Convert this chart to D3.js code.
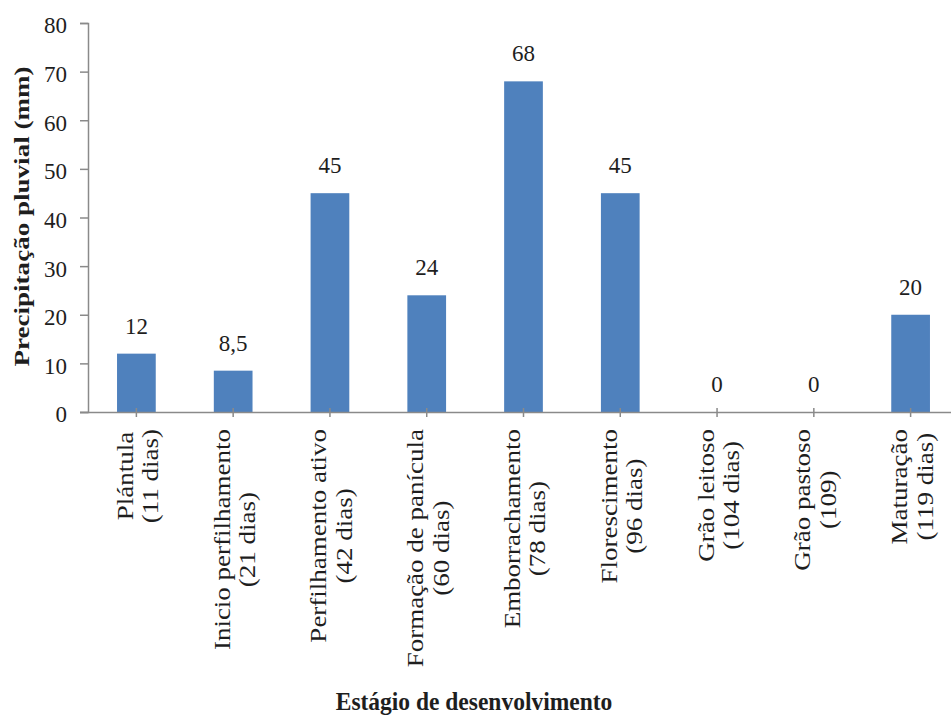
<!DOCTYPE html>
<html>
<head>
<meta charset="utf-8">
<script src="https://cdn.jsdelivr.net/npm/d3@7"></script>
<style>
  html, body { margin: 0; padding: 0; background: #fff; }
  svg { display: block; }
</style>
</head>
<body>
<svg id="chart" width="951" height="716"></svg>
<script>
// Rainfall per rice development stage
const stages = ["Plántula", "Inicio perfilhamento", "Perfilhamento ativo", "Formação de panícula",
                "Emborrachamento", "Florescimento", "Grão leitoso", "Grão pastoso", "Maturação"];
const stageDays = ["(11 dias)", "(21 dias)", "(42 dias)", "(60 dias)", "(78 dias)",
                   "(96 dias)", "(104 dias)", "(109)", "(119 dias)"];
const rainfall = [12, 8.5, 45, 24, 68, 45, 0, 0, 20];
const valueLabels = ["12", "8,5", "45", "24", "68", "45", "0", "0", "20"];
const yTicks = [0, 10, 20, 30, 40, 50, 60, 70, 80];

const serif = "'Liberation Serif', 'Times New Roman', serif";
const textColor = "#1e1e1e";

const svg = d3.select("#chart");
const plotLeft = 88, plotRight = 959, plotTop = 23, plotBottom = 412;
const axisColor = "#8a8a8a";

const x = d3.scaleBand().domain(stages).range([plotLeft, plotRight]).paddingInner(0.6).paddingOuter(0.3);
const y = d3.scaleLinear().domain([0, 80]).range([plotBottom, plotTop]);

// Bars
svg.append("g").selectAll("rect")
  .data(rainfall)
  .join("rect")
  .attr("x", (d, i) => x(stages[i]))
  .attr("y", d => y(d))
  .attr("width", x.bandwidth())
  .attr("height", d => y(0) - y(d))
  .attr("fill", "#4f81bd");

// Value labels above bars
svg.append("g").selectAll("text")
  .data(rainfall)
  .join("text")
  .attr("x", (d, i) => x(stages[i]) + x.bandwidth() / 2)
  .attr("y", d => y(d) - 20)
  .attr("text-anchor", "middle")
  .style("font-family", serif)
  .style("font-size", "23px")
  .style("fill", textColor)
  .text((d, i) => valueLabels[i]);

// Y axis
const yAxis = svg.append("g")
  .attr("transform", `translate(${plotLeft},0)`)
  .call(d3.axisLeft(y).tickValues(yTicks).tickSize(8).tickPadding(13));
yAxis.select(".domain").attr("stroke", axisColor).attr("stroke-width", 1.5);
yAxis.selectAll(".tick line").attr("stroke", axisColor).attr("stroke-width", 1.5);
yAxis.selectAll(".tick text")
  .attr("dy", "0.43em")
  .style("font-size", "23px")
  .style("font-family", serif)
  .style("fill", textColor);

// X axis
const xAxis = svg.append("g")
  .attr("transform", `translate(0,${plotBottom})`)
  .call(d3.axisBottom(x).tickSize(5).tickFormat(""));
xAxis.select(".domain").attr("stroke", axisColor).attr("stroke-width", 1.5)
  .attr("d", `M${plotLeft - 8},0.5H951`);
xAxis.selectAll(".tick line").attr("stroke", axisColor).attr("stroke-width", 1.5).attr("y1", -4);

// Two-line rotated category labels, each centred on its longest line
const labelTop = 429;
stages.forEach((s, i) => {
  const cx = x(s) + x.bandwidth() / 2;
  const g = svg.append("g")
    .attr("transform", `translate(${cx},${labelTop}) rotate(-90) scale(1.2,1)`);
  const t = g.append("text")
    .attr("text-anchor", "middle")
    .style("font-family", serif)
    .style("font-size", "22.5px")
    .style("fill", textColor);
  const l1 = t.append("tspan").attr("y", -3.5).text(s);
  const l2 = t.append("tspan").attr("y", 22).text(stageDays[i]);
  const w = Math.max(l1.node().getComputedTextLength(), l2.node().getComputedTextLength());
  l1.attr("x", -w / 2);
  l2.attr("x", -w / 2);
});

// Axis titles
svg.append("text")
  .attr("transform", `translate(29,${(plotTop + plotBottom) / 2 - 1}) rotate(-90) scale(1.23,1)`)
  .attr("text-anchor", "middle")
  .style("font-family", serif)
  .style("font-size", "22px")
  .style("font-weight", "bold")
  .style("fill", textColor)
  .text("Precipitação pluvial (mm)");

svg.append("text")
  .attr("transform", "translate(474,710) scale(1,1.08)")
  .attr("text-anchor", "middle")
  .style("font-family", serif)
  .style("font-size", "23.5px")
  .style("font-weight", "bold")
  .style("fill", textColor)
  .text("Estágio de desenvolvimento");
</script>
</body>
</html>
